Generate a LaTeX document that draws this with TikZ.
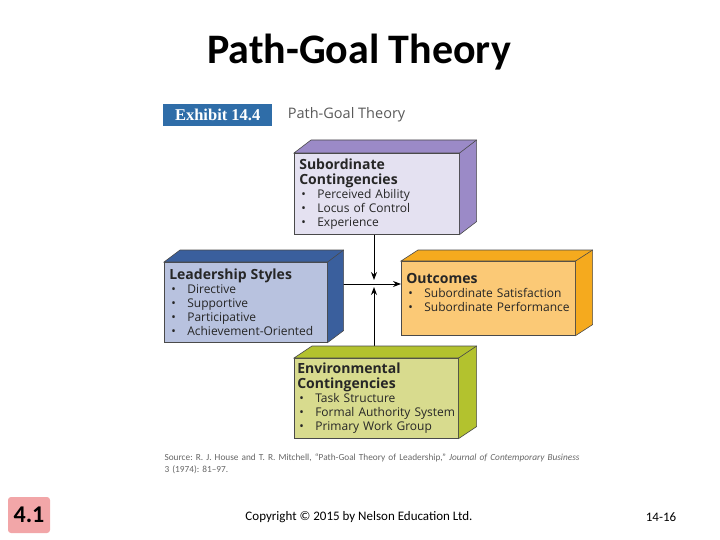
\documentclass[tikz,border=0pt]{standalone}
\usepackage{fontspec}
\setmainfont{Carlito}
\newfontfamily\boxfont{Open Sans}
\newfontfamily\slabfont{Liberation Serif}
\usetikzlibrary{positioning,calc,arrows.meta}
\frenchspacing

\definecolor{subfront}{HTML}{E4E1F1}
\definecolor{subside}{HTML}{9B8AC7}
\definecolor{leadfront}{HTML}{B8C2DF}
\definecolor{leadside}{HTML}{3A5F9D}
\definecolor{outfront}{HTML}{FBC976}
\definecolor{outside}{HTML}{F5AA1E}
\definecolor{envfront}{HTML}{D8DB8E}
\definecolor{envside}{HTML}{B3C22E}
\definecolor{exhblue}{HTML}{2F6DA8}
\definecolor{tagpink}{HTML}{F2A6A8}
\definecolor{edge}{HTML}{4A4A4A}

% heading and bullet lines inside a box
\newcommand{\heading}[1]{{\bfseries\fontsize{14}{15}\selectfont #1\par}}
\newcommand{\itm}[1]{\par\noindent\hspace*{2pt}\makebox[16pt][l]{\textbullet}\mbox{#1}}
% top and side faces behind a front face
\newcommand{\depth}[4]{%
  \draw[edge, line width=0.6pt, fill=#2] (#1.north west) -- ++(#3,-#4)
    -| ($(#1.south east)+(#3,-#4)$) -- (#1.south east) -- (#1.north east) -- cycle;
  \draw[edge, line width=0.6pt] (#1.north east) -- ++(#3,-#4);
}

\begin{document}
\begin{tikzpicture}[
    x=1pt, y=-1pt,
    face/.style={
        draw=edge, line width=0.6pt,
        anchor=north west,
        inner xsep=5pt, inner ysep=3pt,
        align=left,
        font=\boxfont\fontsize{12}{14}\selectfont,
        text=black!85
    },
    link/.style={line width=1pt, -{Stealth[length=8pt,width=6pt]}}
]
\useasboundingbox (0,0) rectangle (720,540);

% title
\node[font=\bfseries\fontsize{42}{46}\selectfont] (title) at (359,52) {Path-Goal Theory};

% exhibit header
\node[fill=exhblue, text=white, anchor=north west, minimum width=109, minimum height=22,
      inner sep=0pt, font=\slabfont\bfseries\fontsize{16.5}{17}\selectfont] (exh) at (163,104) {Exhibit 14.4};
\node[anchor=west, text=black!65, font=\boxfont\fontsize{14.5}{15}\selectfont,
      right=12pt of exh] (sub title) {Path-Goal Theory};

% front faces
\node[face, fill=subfront, text width=155, minimum height=81] (sub) at (294,153)
  {\heading{Subordinate\\Contingencies}\itm{Perceived Ability}\itm{Locus of Control}\itm{Experience}};
\node[face, fill=leadfront, text width=153, minimum height=80] (lead) at (164,262)
  {\heading{Leadership Styles}\itm{Directive}\itm{Supportive}\itm{Participative}\itm{Achievement-Oriented}};
\node[face, fill=outfront, text width=164, minimum height=74] (out) at (401,261)
  {\heading{Outcomes}\itm{Subordinate Satisfaction}\itm{Subordinate Performance}\par\vspace*{12pt}};
\node[face, fill=envfront, text width=158, minimum height=80, inner xsep=3pt] (env) at (294,358)
  {\heading{Environmental\\Contingencies}\itm{Task Structure}\itm{Formal Authority System}\itm{Primary Work Group}};

% connectors
\coordinate (hub) at (374,284);
\draw[link] (sub.south -| hub) -- ($(hub)+(0,-4)$);
\draw[link] (env.north -| hub) -- ($(hub)+(0,3)$);
\draw[link] (lead.east |- hub) -- (out.west |- hub);

% depth of the boxes
\depth{sub}{subside}{17}{13}
\depth{lead}{leadside}{16}{12}
\depth{out}{outside}{17}{11}
\depth{env}{envside}{18}{12}

% source
\node[anchor=north west, text=black!60, text width=440, align=left,
      font=\fontsize{9.3}{12}\selectfont] (source) at (161,450)
  {Source: R. J. House and T. R. Mitchell, ``Path-Goal Theory of Leadership,'' \textit{Journal of Contemporary Business}\\3 (1974): 81--97.};

% footer
\node[fill=tagpink, rounded corners=3pt, minimum width=42, minimum height=36, inner sep=0pt,
      font=\bfseries\fontsize{24}{26}\selectfont] (tag) at (29,515) {4.1};
\node[font=\fontsize{13}{15}\selectfont] (copy) at (359,517) {Copyright © 2015 by Nelson Education Ltd.};
\node[font=\fontsize{13}{15}\selectfont] (page) at (661,517) {14-16};

\end{tikzpicture}
\end{document}
